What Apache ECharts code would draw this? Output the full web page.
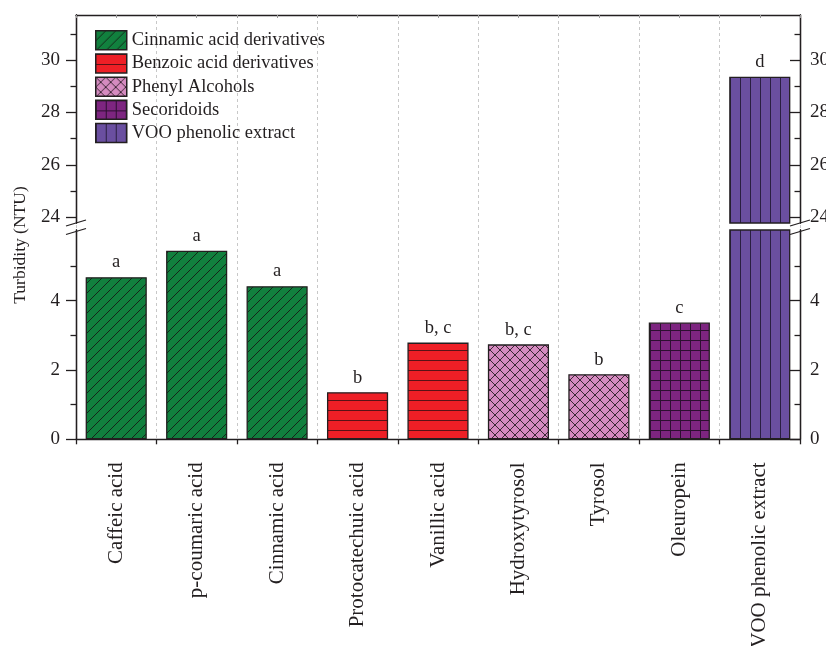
<!DOCTYPE html>
<html>
<head>
<meta charset="utf-8">
<style>
  html, body { margin: 0; padding: 0; background: #ffffff; }
  #chart { width: 826px; height: 646px; }
</style>
<script src="https://cdn.jsdelivr.net/npm/echarts@6/dist/echarts.min.js"></script>
</head>
<body>
<div id="chart"></div>
<script>
// ---- data ----
const categories = ['Caffeic acid', 'p-coumaric acid', 'Cinnamic acid', 'Protocatechuic acid',
  'Vanillic acid', 'Hydroxytyrosol', 'Tyrosol', 'Oleuropein', 'VOO phenolic extract'];
const turbidity = [4.68, 5.44, 4.42, 1.36, 2.79, 2.74, 1.88, 3.37, 29.36];
const significance = ['a', 'a', 'a', 'b', 'b, c', 'b, c', 'b', 'c', 'd'];
const groupNames = ['Cinnamic acid derivatives', 'Benzoic acid derivatives', 'Phenyl Alcohols',
  'Secoridoids', 'VOO phenolic extract'];
const groupOfCategory = [0, 0, 0, 1, 1, 2, 2, 3, 4];
const lowerMajorTicks = [0, 2, 4];
const lowerMinorTicks = [1, 3, 5];
const upperMajorTicks = [24, 26, 28, 30];
const upperMinorTicks = [25, 27, 29, 31];

// ---- layout of the broken value axis ----
const PLOT_LEFT = 76, PLOT_RIGHT = 800, PLOT_TOP = 15, PLOT_BOTTOM = 439.3;
const UPPER_BOTTOM = 223, LOWER_TOP = 230;
const LOWER_RANGE = [0, 6.04];
const UPPER_RANGE = [23.78, 31.72];
const INK = '#231f20';
const FONT = '"Liberation Serif", "Times New Roman", serif';

// ---- hatch fills ----
function hatch(bg, ink, kind) {
  const s = 10;
  const c = document.createElement('canvas');
  c.width = s; c.height = s;
  const g = c.getContext('2d');
  g.fillStyle = bg; g.fillRect(0, 0, s, s);
  g.strokeStyle = ink; g.lineWidth = 1;
  g.beginPath();
  if (kind === 'diag' || kind === 'cross') {
    g.moveTo(-1, s + 1); g.lineTo(s + 1, -1);
    g.moveTo(-2, 2); g.lineTo(2, -2);
    g.moveTo(s - 2, s + 2); g.lineTo(s + 2, s - 2);
  }
  if (kind === 'cross') {
    g.moveTo(-1, -1); g.lineTo(s + 1, s + 1);
    g.moveTo(-2, s - 2); g.lineTo(2, s + 2);
    g.moveTo(s - 2, -2); g.lineTo(s + 2, 2);
  }
  if (kind === 'horiz' || kind === 'grid') {
    g.moveTo(0, 0.5); g.lineTo(s, 0.5);
  }
  if (kind === 'vert' || kind === 'grid') {
    g.moveTo(0.5, 0); g.lineTo(0.5, s);
  }
  g.stroke();
  return { image: c, repeat: 'repeat' };
}

const groupFills = [
  hatch('#11803e', '#14261a', 'diag'),
  hatch('#ee1f26', '#5a1216', 'horiz'),
  hatch('#d58bc0', '#3b2634', 'cross'),
  hatch('#7d2580', '#2c0f30', 'grid'),
  hatch('#6a4fa0', '#2a1f42', 'vert')
];

// ---- series: one per group in each half of the broken axis ----
function groupSeries(gi, xIdx, yIdx, range, stackName) {
  return {
    name: groupNames[gi],
    type: 'bar',
    xAxisIndex: xIdx,
    yAxisIndex: yIdx,
    stack: stackName,
    barWidth: '76%',
    clip: true,
    itemStyle: { color: groupFills[gi], borderColor: INK, borderWidth: 1.3 },
    label: {
      show: true, position: 'top', distance: 5,
      fontFamily: FONT, fontSize: 18.5, color: INK,
      formatter: p => significance[p.dataIndex]
    },
    emphasis: { disabled: true },
    data: turbidity.map((v, i) => {
      if (groupOfCategory[i] !== gi) return '-';
      if (v < range[0]) return '-';
      return { value: v, label: { show: v <= range[1] } };
    })
  };
}

const series = [];
for (let g = 0; g < groupNames.length; g++) series.push(groupSeries(g, 0, 0, LOWER_RANGE, 'lower'));
for (let g = 0; g < groupNames.length; g++) {
  if (turbidity.some((v, i) => groupOfCategory[i] === g && v >= UPPER_RANGE[0])) {
    series.push(groupSeries(g, 1, 4, UPPER_RANGE, 'upper'));
  }
}

// ---- value axes (major + minor tick sets on both sides) ----
function valueAxis(grid, side, range, ticks, labels, tickLen) {
  const left = side === 'left';
  return {
    type: 'value', gridIndex: grid, position: side,
    min: range[0], max: range[1],
    axisLine: { show: true, lineStyle: { color: INK, width: 1.3 } },
    axisTick: { show: true, inside: !left, length: tickLen, customValues: ticks,
      lineStyle: { color: INK, width: 1.3 } },
    axisLabel: labels ? {
      show: true, customValues: labels, margin: left ? 16 : 10,
      fontFamily: FONT, fontSize: 19, color: INK
    } : { show: false },
    splitLine: { show: false }
  };
}

const yAxes = [
  valueAxis(0, 'left', LOWER_RANGE, lowerMajorTicks, lowerMajorTicks, 10),
  valueAxis(0, 'left', LOWER_RANGE, lowerMinorTicks, null, 5.5),
  valueAxis(0, 'right', LOWER_RANGE, lowerMajorTicks, lowerMajorTicks, 10),
  valueAxis(0, 'right', LOWER_RANGE, lowerMinorTicks, null, 5.5),
  valueAxis(1, 'left', UPPER_RANGE, upperMajorTicks, upperMajorTicks, 10),
  valueAxis(1, 'left', UPPER_RANGE, upperMinorTicks, null, 5.5),
  valueAxis(1, 'right', UPPER_RANGE, upperMajorTicks, upperMajorTicks, 10),
  valueAxis(1, 'right', UPPER_RANGE, upperMinorTicks, null, 5.5),
  { type: 'value', gridIndex: 2, show: false, min: 0, max: 1 }
];

const xAxes = [
  {
    type: 'category', gridIndex: 0, position: 'bottom', data: categories,
    axisLine: { show: true, lineStyle: { color: INK, width: 1.3 } },
    axisTick: { show: true, length: 5, interval: 0, lineStyle: { color: INK, width: 1.3 } },
    axisLabel: { show: true, interval: 0, rotate: 90, margin: 23,
      fontFamily: FONT, fontSize: 21, color: INK },
    splitLine: { show: false }
  },
  {
    type: 'category', gridIndex: 1, position: 'top', data: categories,
    axisLine: { show: true, lineStyle: { color: INK, width: 1.3 } },
    axisTick: { show: true, inside: true, length: 3, interval: 0, lineStyle: { color: '#9a9a9a' } },
    axisLabel: { show: false }, splitLine: { show: false }
  },
  {
    type: 'category', gridIndex: 1, position: 'top', data: categories,
    axisLine: { show: false },
    axisTick: { show: true, inside: true, length: 3, interval: 0, alignWithLabel: true,
      lineStyle: { color: '#9a9a9a' } },
    axisLabel: { show: false }, splitLine: { show: false }
  },
  {
    type: 'category', gridIndex: 2, data: categories,
    axisLine: { show: false }, axisTick: { show: false }, axisLabel: { show: false },
    splitLine: { show: true, interval: 0, lineStyle: { color: '#c8c8c8', width: 1, type: [3, 3] } }
  }
];

// ---- axis-break marks ----
function breakMarks(x) {
  const lines = [];
  [UPPER_BOTTOM, LOWER_TOP + 1.5].forEach(y => {
    lines.push({
      type: 'line', silent: true,
      shape: { x1: x - 10, y1: y + 3, x2: x + 10, y2: y - 3 },
      style: { stroke: INK, lineWidth: 1.3 }
    });
  });
  return lines;
}

const gridBase = { left: PLOT_LEFT, width: PLOT_RIGHT - PLOT_LEFT, outerBoundsMode: 'none', containLabel: false };

const chart = echarts.init(document.getElementById('chart'), null, { renderer: 'canvas' });
chart.setOption({
  backgroundColor: '#ffffff',
  animation: false,
  grid: [
    Object.assign({ top: LOWER_TOP, height: PLOT_BOTTOM - LOWER_TOP }, gridBase),
    Object.assign({ top: PLOT_TOP, height: UPPER_BOTTOM - PLOT_TOP }, gridBase),
    Object.assign({ top: PLOT_TOP, height: PLOT_BOTTOM - PLOT_TOP, z: 0 }, gridBase)
  ],
  xAxis: xAxes,
  yAxis: yAxes,
  legend: {
    data: groupNames,
    orient: 'vertical',
    left: 95, top: 30, padding: 0,
    itemWidth: 31, itemHeight: 19, itemGap: 2.7,
    icon: 'rect',
    itemStyle: { borderColor: INK, borderWidth: 1.5 },
    textStyle: { fontFamily: FONT, fontSize: 18.5, color: INK, lineHeight: 19, height: 19 },
    selectedMode: false
  },
  graphic: [
    {
      type: 'text', silent: true, x: 20, y: 245, rotation: Math.PI / 2,
      style: { text: 'Turbidity (NTU)', fontFamily: FONT, fontSize: 17.5, fill: INK,
        align: 'center', verticalAlign: 'middle' }
    },
    ...breakMarks(PLOT_LEFT),
    ...breakMarks(PLOT_RIGHT)
  ],
  series: series
});
</script>
</body>
</html>
